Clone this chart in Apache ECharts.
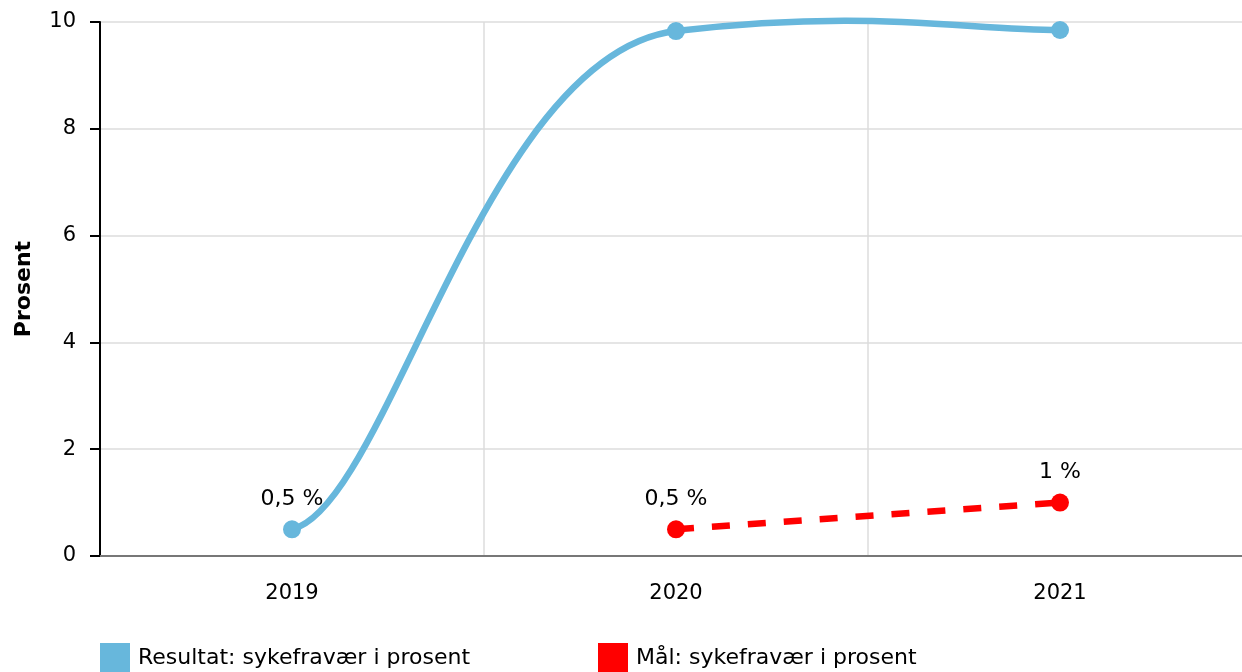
<!DOCTYPE html>
<html>
<head>
<meta charset="utf-8">
<script src="https://cdn.jsdelivr.net/npm/echarts@6/dist/echarts.min.js"></script>
<style>html,body{margin:0;padding:0;background:#fff;overflow:hidden;width:1242px;height:672px;}#c{width:1256px;height:672px;}</style>
</head>
<body>
<div id="c"></div>
<script>
const categories = ['2019', '2020', '2021'];
const resultatValues = [0.5, 9.83, 9.85];
const maalValues = [null, 0.5, 1];
const seriesNames = ['Resultat: sykefravær i prosent', 'Mål: sykefravær i prosent'];
const yTicks = [0, 2, 4, 6, 8, 10];
const labelledResultat = [0];

const FONT = 'DejaVu Sans';
const BLUE = '#67b7dc';
const RED = '#ff0000';
const TENSION_X = 0.25, TENSION_Y = 0.045;
const fmt = p => String(p.value).replace('.', ',') + ' %';

function renderSpline(params, api) {
  const i = params.dataIndex;
  const n = resultatValues.length;
  if (i >= n - 1) return null;
  const pt = k => {
    const j = Math.max(0, Math.min(n - 1, k));
    return api.coord([j, resultatValues[j]]);
  };
  const p0 = pt(i - 1), p1 = pt(i), p2 = pt(i + 1), p3 = pt(i + 2);
  return {
    type: 'bezierCurve',
    shape: {
      x1: p1[0], y1: p1[1], x2: p2[0], y2: p2[1],
      cpx1: p1[0] + (p2[0] - p0[0]) * TENSION_X, cpy1: p1[1] + (p2[1] - p0[1]) * TENSION_Y,
      cpx2: p2[0] - (p3[0] - p1[0]) * TENSION_X, cpy2: p2[1] - (p3[1] - p1[1]) * TENSION_Y
    },
    style: { stroke: BLUE, lineWidth: 6.5, fill: null, lineCap: 'round' }
  };
}

const chart = echarts.init(document.getElementById('c'));
chart.setOption({
  animation: false,
  textStyle: { fontFamily: FONT },
  grid: { left: 100, top: 22, right: 4, bottom: 116 },
  legend: [
    { data: [seriesNames[0]], left: 95, top: 638, icon: 'rect', itemWidth: 30, itemHeight: 30,
      textStyle: { fontFamily: FONT, fontSize: 22, color: '#000', padding: [0, 0, 0, 3] } },
    { data: [seriesNames[1]], left: 593, top: 638, icon: 'rect', itemWidth: 30, itemHeight: 30,
      textStyle: { fontFamily: FONT, fontSize: 22, color: '#000', padding: [0, 0, 0, 3] } }
  ],
  xAxis: {
    type: 'category', data: categories, boundaryGap: true,
    axisLine: { lineStyle: { color: '#777', width: 2 } },
    axisTick: { alignWithLabel: true, length: 8, lineStyle: { color: '#777', width: 2 } },
    axisLabel: { fontFamily: FONT, fontSize: 21, color: '#000', margin: 27 },
    splitLine: { show: true, lineStyle: { color: '#ddd', width: 1.5 } }
  },
  yAxis: {
    type: 'value', min: yTicks[0], max: yTicks[yTicks.length - 1], interval: 2,
    name: 'Prosent', nameLocation: 'middle', nameGap: 65, nameRotate: 90,
    nameTextStyle: { fontFamily: FONT, fontSize: 22, fontWeight: 'bold', color: '#000' },
    axisLine: { show: true, lineStyle: { color: '#000', width: 2 } },
    axisTick: { show: true, length: 10, lineStyle: { color: '#000', width: 2 } },
    axisLabel: { fontFamily: FONT, fontSize: 21, color: '#000', margin: 24 },
    splitLine: { show: true, lineStyle: { color: '#ddd', width: 1.5 } }
  },
  series: [
    {
      name: seriesNames[0], type: 'custom', coordinateSystem: 'cartesian2d',
      renderItem: renderSpline, color: BLUE,
      data: resultatValues.map((v, i) => [i, v]), encode: { x: 0, y: 1 },
      z: 2, silent: true
    },
    {
      name: seriesNames[0], type: 'line',
      data: resultatValues.map((v, i) => labelledResultat.includes(i) ? { value: v, label: { show: true } } : v),
      symbol: 'circle', symbolSize: 18, color: BLUE,
      lineStyle: { width: 0, opacity: 0 },
      label: { show: false, position: 'top', distance: 10, formatter: fmt, fontFamily: FONT, fontSize: 22, color: '#000' },
      z: 3
    },
    {
      name: seriesNames[1], type: 'line', smooth: false,
      data: maalValues,
      symbol: 'circle', symbolSize: 18, color: RED,
      lineStyle: { width: 6.5, color: RED, type: [18, 18] },
      label: { show: true, position: 'top', distance: 10, formatter: fmt, fontFamily: FONT, fontSize: 22, color: '#000' },
      z: 4
    }
  ]
});
</script>
</body>
</html>
